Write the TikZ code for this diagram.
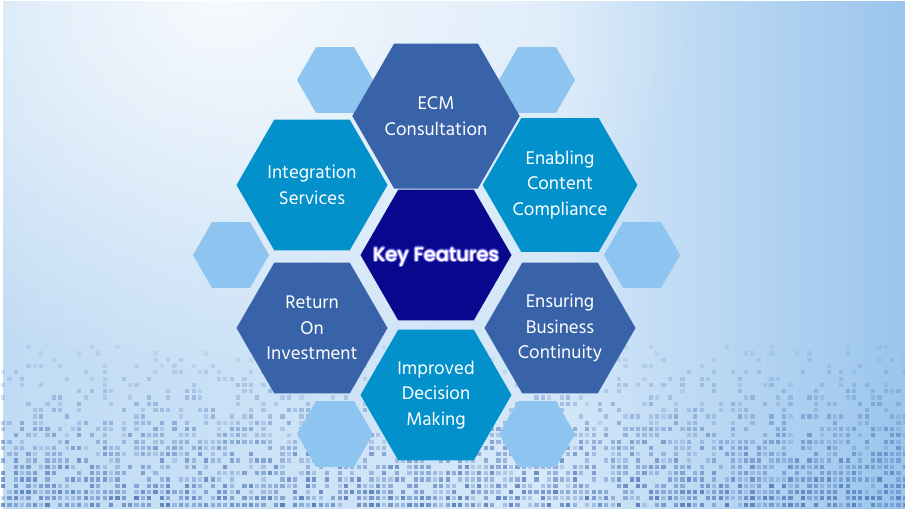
\documentclass[tikz,border=0pt]{standalone}
\usepackage{fontspec}
\setmainfont{Hind Siliguri}
\newfontfamily\popfont{Poppins Medium}
\usetikzlibrary{shapes.geometric, calc, fadings}

\definecolor{bgleft}{RGB}{192, 219, 244}
\definecolor{bgmid}{RGB}{214, 232, 249}
\definecolor{bgblue}{RGB}{155, 197, 236}
\definecolor{hexsteel}{RGB}{56, 99, 168}
\definecolor{hexcyan}{RGB}{3, 145, 204}
\definecolor{hexnavy}{RGB}{8, 8, 142}
\definecolor{hexpale}{RGB}{142, 196, 240}
\definecolor{pixblue}{RGB}{72, 110, 178}
\definecolor{glowviolet}{RGB}{165, 155, 255}

\pgfdeclarehorizontalshading{bgside}{100bp}{color(0bp)=(bgleft); color(25bp)=(bgleft); color(55bp)=(bgmid); color(75bp)=(bgblue); color(100bp)=(bgblue)}
\tikzfading[name=softglow, inner color=transparent!0, outer color=transparent!100]

\begin{document}
\begin{tikzpicture}[x=1pt, y=-1pt,
  hexbig/.style={regular polygon, regular polygon sides=6, minimum size=151pt, inner sep=0pt, outer sep=0pt, text=white, align=center, font=\fontsize{18.8}{25.7}\selectfont},
  hexsmall/.style={regular polygon, regular polygon sides=6, minimum size=76pt, inner sep=0pt, outer sep=0pt, fill=hexpale},
  keyglow/.style={text=glowviolet, opacity=0.3, font=\popfont\fontsize{19.5}{24}\selectfont},
  keytext/.style={text=white, font=\popfont\fontsize{19.5}{24}\selectfont}]
  \useasboundingbox (0,0) rectangle (905,511);

  % Background
  \fill[white] (0,0) rectangle (905,511);
  \begin{scope}
    \clip (3,2) rectangle (905,508);
    \shade[shading=bgside] (3,2) rectangle (905,508);
    \fill[white, fill opacity=0.85, path fading=softglow] (220,0) ellipse (480 and 380);
  \end{scope}

  % Pixel squares along the bottom
  \pgfmathsetseed{7}
  \foreach \row in {0,...,25}{
    \foreach \col in {0,...,142}{
      \pgfmathsetmacro\pick{rnd-(0.12+0.7*\row/25)}
      \ifdim\pick pt<0pt
        \pgfmathsetmacro\pixop{0.1+0.15*\row/25+0.6*rnd*\row/25}
        \fill[pixblue, fill opacity=\pixop] (1+\col*6.35, 345+\row*6.3) rectangle ++(4.2, 4.2);
      \fi
    }
  }

  % Small pale hexagons
  \node[hexsmall] (paleTL) at (335, 80) {};
  \node[hexsmall] (paleTR) at (537, 80) {};
  \node[hexsmall] (paleML) at (231, 255) {};
  \node[hexsmall] (paleMR) at (642, 255) {};
  \node[hexsmall] (paleBL) at (335, 434) {};
  \node[hexsmall] (paleBR) at (537, 434) {};

  % Feature hexagons
  \node[hexbig, fill=hexsteel] (ecm) at (436, 116) {ECM\\Consultation};
  \node[hexbig, fill=hexcyan] (integ) at (312, 185) {Integration\\Services};
  \node[hexbig, fill=hexcyan] (enable) at (560, 185) {Enabling\\Content\\Compliance};
  \node[hexbig, fill=hexnavy] (key) at (436, 255) {};
  \node[hexbig, fill=hexsteel] (roi) at (312, 328) {Return\\On\\Investment};
  \node[hexbig, fill=hexsteel] (ensure) at (560, 328) {Ensuring\\Business\\Continuity};
  \node[hexbig, fill=hexcyan] (improve) at (436, 395) {Improved\\Decision\\Making};

  % Centre label with glow
  \foreach \a in {0, 30, ..., 330}
    \node[keyglow, yshift=-2pt] (glow\a) at ($(key.center)+(\a:1.4pt)$) {Key Features};
  \node[keytext, yshift=-2pt] (keylabel) at (key.center) {Key Features};
\end{tikzpicture}
\end{document}
